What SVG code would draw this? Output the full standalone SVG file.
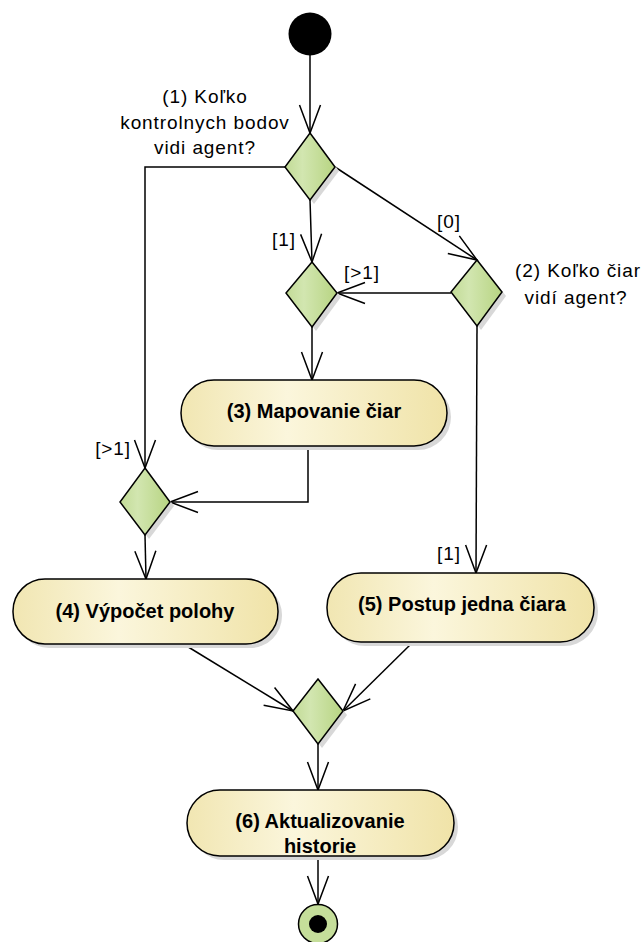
<svg xmlns="http://www.w3.org/2000/svg" width="644" height="942" viewBox="0 0 644 942">
<style>
.edge{fill:none;stroke:#000;stroke-width:1.5;marker-end:url(#arr)}
.dia{fill:url(#gD);stroke:#000;stroke-width:1.5}
.act{fill:url(#gA);stroke:#000;stroke-width:1.5}
.sh{fill:#d8d8d8;stroke:none}
.lbl{font-family:"Liberation Sans",Arial,sans-serif;font-size:19px;letter-spacing:0.9px;fill:#000}
.at{font-family:"Liberation Sans",Arial,sans-serif;font-size:20px;font-weight:bold;fill:#000;text-anchor:middle}
</style>
<defs>
<linearGradient id="gD" x1="0" y1="0" x2="1" y2="0">
<stop offset="0" stop-color="#c2db96"/>
<stop offset="0.35" stop-color="#d2e6b0"/>
<stop offset="1" stop-color="#b7d482"/>
</linearGradient>
<linearGradient id="gA" x1="0" y1="0" x2="1" y2="0">
<stop offset="0" stop-color="#f1e6b2"/>
<stop offset="0.4" stop-color="#fbf6dc"/>
<stop offset="1" stop-color="#f0e3a8"/>
</linearGradient>
<marker id="arr" markerUnits="userSpaceOnUse" markerWidth="40" markerHeight="30" viewBox="-30 -15 32 30" refX="0" refY="0" orient="auto" overflow="visible">
<path d="M-28,-10.5 L0,0 L-28,10.5" fill="none" stroke="#000" stroke-width="1.5"/>
</marker>
</defs>

<g id="connectors">
<path class="edge" d="M310,55 L310,133"/>
<path class="edge" d="M310,200 L312,262"/>
<path class="edge" d="M335,167 L477,260"/>
<path class="edge" d="M285,167 L145,167 L145,468"/>
<path class="edge" d="M451,293 L337,293"/>
<path class="edge" d="M312,327 L312,380"/>
<path class="edge" d="M308,446 L308,502 L170,502"/>
<path class="edge" d="M145,535 L146,579"/>
<path class="edge" d="M477,326 L476,573"/>
<path class="edge" d="M185,645 L293,711"/>
<path class="edge" d="M412,643 L343,711"/>
<path class="edge" d="M318,744 L318,790"/>
<path class="edge" d="M318,856 L318,904"/>
<text class="lbl" x="272" y="246">[1]</text>
<text class="lbl" x="437" y="228">[0]</text>
<text class="lbl" x="344" y="279">[&gt;1]</text>
<text class="lbl" text-anchor="end" x="131" y="455">[&gt;1]</text>
<text class="lbl" x="437" y="560">[1]</text>
</g>

<g id="start">
<circle cx="310" cy="34" r="21.5" fill="#000"/>
</g>

<g id="decision1">
<path class="sh" d="M314,137 L339,171 L314,204 L289,171 Z"/>
<path class="dia" d="M310,133 L335,167 L310,200 L285,167 Z"/>
<text class="lbl" text-anchor="middle" x="205" y="103">(1) Koľko</text>
<text class="lbl" text-anchor="middle" x="205" y="129">kontrolnych bodov</text>
<text class="lbl" text-anchor="middle" x="205" y="154">vidi agent?</text>
</g>

<g id="decision2">
<path class="sh" d="M316,266 L341,297 L316,331 L290,297 Z"/>
<path class="dia" d="M312,262 L337,293 L312,327 L286,293 Z"/>
</g>

<g id="decision_lines">
<path class="sh" d="M481,264 L506,296 L481,330 L455,296 Z"/>
<path class="dia" d="M477,260 L502,292 L477,326 L451,292 Z"/>
<text class="lbl" text-anchor="middle" x="578" y="277">(2) Koľko čiar</text>
<text class="lbl" text-anchor="middle" x="576" y="304">vidí agent?</text>
</g>

<g id="action3">
<rect class="sh" x="185" y="384" width="266" height="66" rx="33"/>
<rect class="act" x="181" y="380" width="266" height="66" rx="33"/>
<text class="at" x="314" y="418">(3) Mapovanie čiar</text>
</g>

<g id="merge1">
<path class="sh" d="M149,472 L174,506 L149,539 L124,506 Z"/>
<path class="dia" d="M145,468 L170,502 L145,535 L120,502 Z"/>
</g>

<g id="action4">
<rect class="sh" x="17" y="583" width="265" height="65" rx="32"/>
<rect class="act" x="13" y="579" width="265" height="65" rx="32"/>
<text class="at" x="145" y="618">(4) Výpočet polohy</text>
</g>

<g id="action5">
<rect class="sh" x="331" y="577" width="267" height="69" rx="34"/>
<rect class="act" x="327" y="573" width="267" height="69" rx="34"/>
<text class="at" x="462" y="611">(5) Postup jedna čiara</text>
</g>

<g id="merge2">
<path class="sh" d="M322,683 L347,715 L322,748 L297,715 Z"/>
<path class="dia" d="M318,679 L343,711 L318,744 L293,711 Z"/>
</g>

<g id="action6">
<rect class="sh" x="191" y="794" width="267" height="66" rx="33"/>
<rect class="act" x="187" y="790" width="267" height="66" rx="33"/>
<text class="at" x="320" y="828">(6) Aktualizovanie</text>
<text class="at" x="320" y="853">historie</text>
</g>

<g id="end">
<circle cx="318" cy="924" r="19.5" fill="#c5de9a" stroke="#000" stroke-width="1.5"/>
<circle cx="318" cy="924" r="9" fill="#000"/>
</g>
</svg>
